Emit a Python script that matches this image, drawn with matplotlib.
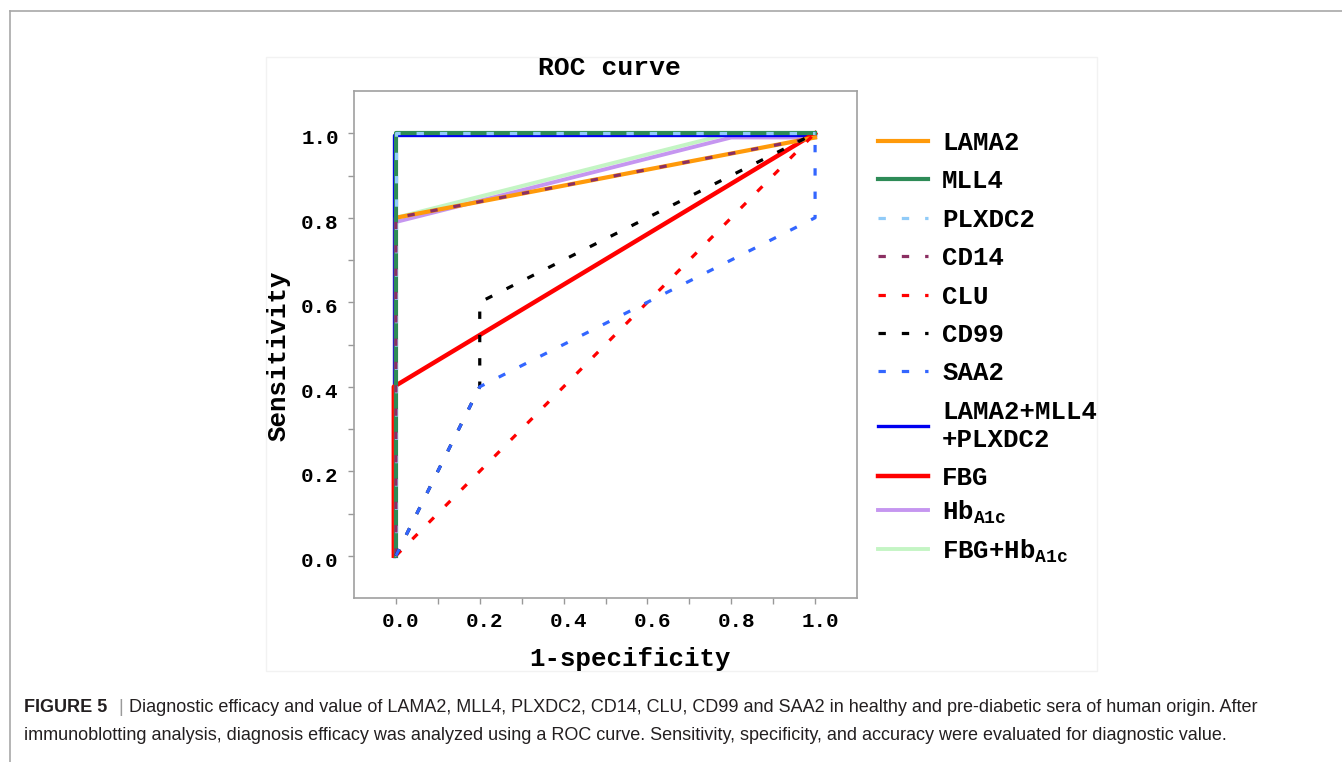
import matplotlib
matplotlib.use("Agg")
import matplotlib.pyplot as plt
from matplotlib.lines import Line2D
from matplotlib.patches import Rectangle
from matplotlib.transforms import ScaledTranslation
from matplotlib.ticker import FixedLocator

plt.rcParams['font.family'] = ['Liberation Mono', 'DejaVu Sans Mono']
plt.rcParams['font.weight'] = 'bold'
plt.rcParams['mathtext.fontset'] = 'custom'
plt.rcParams['mathtext.rm'] = 'Liberation Mono:bold'
plt.rcParams['mathtext.bf'] = 'Liberation Mono:bold'

# ROC points (1-specificity, sensitivity)
lama2_x = [0, 0, 1]
lama2_y = [0, 0.8, 0.99]
mll4_x = [0, 0, 1]
mll4_y = [0, 1, 1]
plxdc2_x = [0, 0, 1]
plxdc2_y = [0, 1, 1]
cd14_x = [0, 0, 1]
cd14_y = [0, 0.8, 0.99]
clu_x = [0, 0.2, 0.4, 0.6, 0.8, 1]
clu_y = [0, 0.2, 0.4, 0.6, 0.8, 1]
cd99_x = [0, 0.2, 0.2, 1]
cd99_y = [0, 0.4, 0.6, 1]
saa2_x = [0, 0.2, 1, 1]
saa2_y = [0, 0.4, 0.8, 1]
combo_x = [-0.005, -0.005, 1]
combo_y = [0, 0.995, 0.995]
fbg_x = [-0.005, -0.005, 1]
fbg_y = [0, 0.4, 1]
hb_x = [0, 0, 0.8, 1]
hb_y = [0, 0.79, 0.99, 0.99]
fbghb_x = [0, 0, 0.8, 1]
fbghb_y = [0, 0.8, 1.0, 1.0]

xticks = [0.0, 0.2, 0.4, 0.6, 0.8, 1.0]
yticks = [0.0, 0.2, 0.4, 0.6, 0.8, 1.0]
minor_ticks = [0.1, 0.3, 0.5, 0.7, 0.9]

W, H = 1342, 762
fig = plt.figure(figsize=(W / 100, H / 100), dpi=100)

# page decoration: outer frame and panel
fig.add_artist(Line2D([9.5 / W, 1], [1 - 10.5 / H] * 2, transform=fig.transFigure,
                      color='#A8A8A8', lw=1.2))
fig.add_artist(Line2D([9.5 / W] * 2, [0, 1 - 10.5 / H], transform=fig.transFigure,
                      color='#A8A8A8', lw=1.2))
fig.add_artist(Rectangle((266 / W, 1 - 671 / H), (1097 - 266) / W, (671 - 57) / H,
                         transform=fig.transFigure, fill=False, ec='#F2F2F2', lw=1,
                         zorder=0))

ax = fig.add_axes([354 / W, 1 - 598 / H, (857 - 354) / W, (598 - 91) / H])

dash = (2.3, 5.0)
# bottom -> top drawing order
h_fbghb, = ax.plot(fbghb_x, fbghb_y, color='#C4F5C4', lw=2.8, zorder=2)
h_hb, = ax.plot(hb_x, hb_y, color='#C596F0', lw=2.8, zorder=3)
h_combo, = ax.plot(combo_x, combo_y, color='#0000F0', lw=2.4, zorder=4)
h_fbg, = ax.plot(fbg_x, fbg_y, color='#FF0000', lw=3.2, zorder=5)
h_lama2, = ax.plot(lama2_x, lama2_y, color='#FF9A0A', lw=3.0, zorder=6)
h_mll4, = ax.plot(mll4_x, mll4_y, color='#2E8B57', lw=3.0, zorder=7)
h_plx, = ax.plot(plxdc2_x, plxdc2_y, color='#90CBF8', lw=2.3, dashes=dash, zorder=8)
h_cd14, = ax.plot(cd14_x, cd14_y, color='#8B2F62', lw=2.3, dashes=dash, zorder=9)
h_clu, = ax.plot(clu_x, clu_y, color='#FF0000', lw=2.3, dashes=dash, zorder=10)
h_cd99, = ax.plot(cd99_x, cd99_y, color='#000000', lw=2.3, dashes=dash, zorder=11)
h_saa2, = ax.plot(saa2_x, saa2_y, color='#3366FF', lw=2.3, dashes=dash, zorder=12)

ax.set_xlim(-0.1, 1.1)
ax.set_ylim(-0.1, 1.1)
ax.set_xticks(xticks)
ax.set_yticks(yticks)
ax.xaxis.set_minor_locator(FixedLocator(minor_ticks))
ax.yaxis.set_minor_locator(FixedLocator(minor_ticks))
ax.set_xticklabels([f'{v:.1f}' for v in xticks])
ax.set_yticklabels([f'{v:.1f}' for v in yticks])
ax.tick_params(which='both', direction='out', length=4, width=1, color='#999999',
               labelsize=15)
ax.tick_params(axis='x', pad=6)
ax.tick_params(axis='y', pad=7)
for s in ax.spines.values():
    s.set_color('#A0A0A0')
    s.set_linewidth(1.2)

for lab in ax.get_xticklabels():
    lab.set_transform(lab.get_transform() + ScaledTranslation(0.05, 0, fig.dpi_scale_trans))
for lab in ax.get_yticklabels():
    lab.set_transform(lab.get_transform() + ScaledTranslation(0, -0.035, fig.dpi_scale_trans))

ax.set_title('ROC curve', fontsize=19, fontweight='bold', x=0.507, pad=11.5)
ax.set_xlabel('1-specificity', fontsize=18.5, fontweight='bold')
ax.set_ylabel('Sensitivity', fontsize=18.5, fontweight='bold')
ax.xaxis.set_label_coords(0.549, -0.097)
ax.yaxis.set_label_coords(-0.126, 0.477)

# legend: plain rows, then the two subscript rows
handles1 = [h_lama2, h_mll4, h_plx, h_cd14, h_clu, h_cd99, h_saa2, h_combo, h_fbg]
labels1 = ['LAMA2', 'MLL4', 'PLXDC2', 'CD14', 'CLU', 'CD99', 'SAA2',
           'LAMA2+MLL4\n+PLXDC2', 'FBG']
handles2 = [h_hb, h_fbghb]
labels2 = [r'Hb$_{\mathrm{A1c}}$', r'FBG+Hb$_{\mathrm{A1c}}$']
leg_kw = dict(loc='upper left', frameon=False, fontsize=18.5, handlelength=1.95,
              handletextpad=0.55, borderpad=0, borderaxespad=0)
leg = fig.legend(handles1, labels1, bbox_to_anchor=(878 / W, 1 - 131 / H),
                 labelspacing=0.56, **leg_kw)
for t in leg.get_texts():
    t.set_linespacing(1.2)
fig.legend(handles2, labels2, bbox_to_anchor=(878 / W, 1 - 498 / H),
           labelspacing=0.46, **leg_kw)

# caption
cap_color = '#231F20'
cap_size = 12.95
y1 = 1 - 712 / H
y2 = 1 - 740 / H
fig.text(24 / W, y1, 'FIGURE 5', family='Liberation Sans', fontweight='bold',
         fontsize=cap_size, color=cap_color, va='baseline')
fig.text(118 / W, y1, '|', family='Liberation Sans', fontweight='normal',
         fontsize=cap_size, color='#9A9A9A', va='baseline')
fig.text(129 / W, y1, 'Diagnostic efficacy and value of LAMA2, MLL4, PLXDC2, CD14, CLU, '
         'CD99 and SAA2 in healthy and pre-diabetic sera of human origin. After',
         family='Liberation Sans', fontweight='normal', fontsize=cap_size, color=cap_color,
         va='baseline')
fig.text(24 / W, y2, 'immunoblotting analysis, diagnosis efficacy was analyzed using a ROC '
         'curve. Sensitivity, specificity, and accuracy were evaluated for diagnostic value.',
         family='Liberation Sans', fontweight='normal', fontsize=cap_size, color=cap_color,
         va='baseline')

fig.savefig('out.png', dpi=100)
